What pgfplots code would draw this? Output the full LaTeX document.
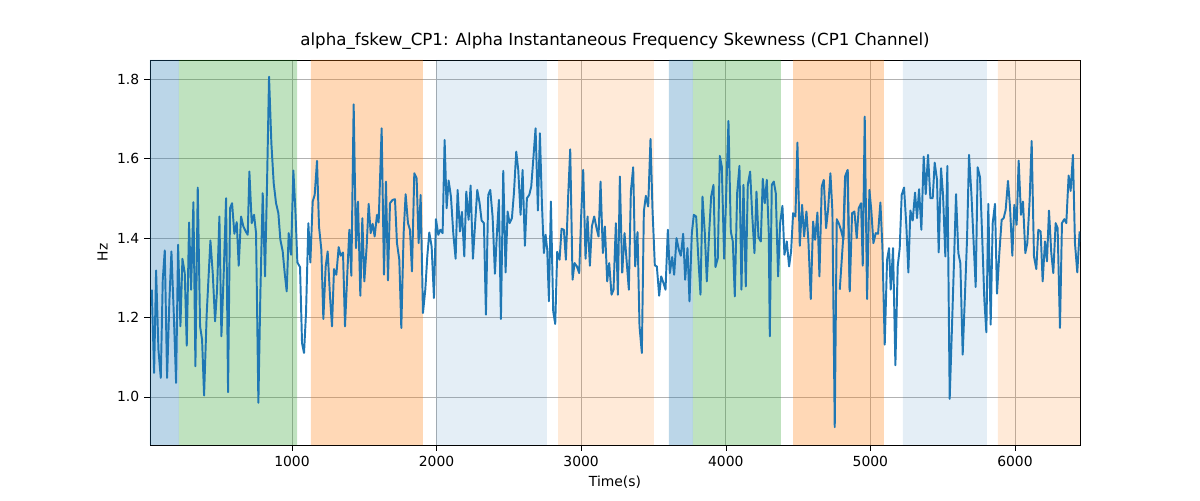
\documentclass[border=0pt]{standalone}
\usepackage{pgfplots}
\pgfplotsset{compat=1.18}
\usepackage{pgfplotstable}
\usepackage{fontspec}
\setmainfont{DejaVu Sans}
\definecolor{tb}{RGB}{31,119,180}
\definecolor{tg}{RGB}{44,160,44}
\definecolor{to}{RGB}{255,127,14}
\pgfplotstableread{
X Y
5 690
12 940
18 632
25 870
32 955
38 660
44 572
51 955
58 720
64 575
71 760
78 970
84 555
91 800
97 597
104 640
110 858
117 488
123 690
130 427
136 920
143 383
150 800
156 840
162 1008
170 760
181 542
188 640
195 785
201 690
208 470
214 830
221 640
228 415
234 998
240 445
246 430
253 522
260 487
266 618
273 470
280 500
287 515
293 525
298 335
305 490
312 465
318 520
325 1030
331 700
338 400
345 650
351 370
357 50
364 250
371 370
378 430
385 460
391 540
398 575
404 640
410 695
416 520
423 585
430 332
436 450
442 608
450 622
456 850
462 880
468 760
475 490
481 608
488 425
494 405
501 303
507 500
514 570
520 778
527 620
533 575
540 710
546 800
552 628
559 645
566 562
572 588
579 578
585 800
592 640
598 510
604 648
611 133
618 565
624 425
631 708
637 475
643 665
650 560
656 432
662 520
668 492
674 530
681 465
686 488
695 205
702 645
708 365
714 662
720 430
}\tA
\pgfplotstableread{
X Y
30 430
38 420
45 418
51 550
58 600
64 805
71 520
77 403
84 490
90 510
96 635
103 340
110 355
116 550
122 405
129 760
136 690
142 590
148 518
155 560
162 715
168 478
175 525
181 510
188 520
194 240
200 445
206 362
213 410
220 520
227 597
233 390
240 515
246 456
253 590
259 395
266 480
272 377
279 597
285 500
292 390
299 430
305 482
312 490
318 765
325 405
331 390
338 470
345 642
351 520
357 420
363 778
370 333
377 638
383 455
389 490
396 475
402 400
409 275
415 330
422 465
428 330
435 558
441 415
448 405
454 380
460 300
467 205
474 452
480 220
486 430
492 580
497 525
502 570
507 725
513 425
520 755
526 793
532 576
539 600
545 507
552 510
558 600
565 405
571 268
578 660
584 610
591 620
598 640
604 465
610 330
617 597
623 470
630 618
636 500
643 470
650 505
656 530
662 365
669 580
675 500
682 665
688 610
695 705
701 690
708 490
714 705
720 350
727 640
}\tB
\pgfplotstableread{
X Y
37 640
44 520
50 600
57 690
63 395
70 322
76 620
83 517
89 800
96 880
102 455
108 408
115 440
122 237
128 450
135 617
141 620
148 708
154 650
161 670
167 690
174 510
180 640
187 592
193 645
200 535
207 570
213 588
220 522
226 660
233 565
239 725
246 520
252 465
259 470
265 585
272 705
278 410
285 520
291 665
298 520
304 410
311 375
317 622
324 595
330 288
336 320
343 597
349 410
356 183
363 515
369 545
375 710
382 400
389 318
395 690
401 375
408 680
414 375
421 335
427 460
434 580
440 395
446 532
453 545
459 357
465 430
471 360
477 520
480 830
486 375
492 365
498 400
505 650
511 490
518 438
524 585
531 545
538 620
544 575
550 460
557 470
563 248
570 558
577 435
583 530
590 455
596 545
603 718
610 485
616 540
623 458
629 650
636 380
642 360
649 505
655 450
662 340
668 455
675 1103
681 478
688 493
694 512
701 540
707 350
714 330
720 690
}\tC
\pgfplotstableread{
X Y
0 690
10 540
16 350
23 332
30 695
37 460
44 455
51 535
57 445
64 430
69 618
75 170
82 718
89 390
95 455
101 550
108 520
115 522
122 428
128 560
135 855
142 600
148 565
153 690
160 565
167 917
174 620
180 565
186 405
193 383
200 500
206 638
212 452
219 482
226 398
232 475
238 388
245 510
252 290
258 403
265 285
272 415
279 415
285 308
292 360
297 578
304 325
310 405
317 590
323 318
330 1018
337 800
343 605
349 403
356 580
362 610
369 885
376 700
382 540
388 285
395 400
401 530
408 682
414 322
421 352
428 545
434 720
440 818
446 432
453 795
459 490
466 432
472 702
479 580
486 480
492 475
498 450
505 363
511 440
518 588
524 435
531 495
537 302
544 465
550 425
557 580
563 550
570 420
576 243
583 590
590 628
596 510
603 515
609 665
616 545
622 605
628 452
635 580
641 640
648 490
654 505
661 805
667 490
674 478
680 490
687 347
693 393
700 285
706 550
713 638
720 515
}\tD
\begin{document}
\begin{tikzpicture}
\begin{axis}[
  scale only axis, width=669.6pt, height=277.2pt,
  xmin=18, xmax=6450, ymin=0.879, ymax=1.848,
  xtick={1000,2000,3000,4000,5000,6000},
  ytick={1.0,1.2,1.4,1.6,1.8},
  xticklabel style={/pgf/number format/1000 sep={}},
  yticklabel style={/pgf/number format/fixed,/pgf/number format/fixed zerofill,/pgf/number format/precision=1},
  /pgf/number format/assume math mode=true,
  scaled x ticks=false,
  grid=major, grid style={gray!60, line width=0.6pt},
  tick align=outside, tick style={black},
  xtick pos=bottom, ytick pos=left,
  xlabel={Time(s)}, ylabel={Hz},
  title={alpha\_fskew\_CP1: Alpha Instantaneous Frequency Skewness (CP1 Channel)},
  title style={font=\fontsize{12}{14}\selectfont, yshift=-2pt},
  tick label style={font=\fontsize{10}{12}\selectfont},
  label style={font=\fontsize{10}{12}\selectfont},
]
\addplot[fill=tb, fill opacity=0.3, draw=none] coordinates {(18,0.879)(218,0.879)(218,1.848)(18,1.848)} \closedcycle;
\addplot[fill=tg, fill opacity=0.3, draw=none] coordinates {(218,0.879)(1035,0.879)(1035,1.848)(218,1.848)} \closedcycle;
\addplot[fill=to, fill opacity=0.3, draw=none] coordinates {(1131,0.879)(1906,0.879)(1906,1.848)(1131,1.848)} \closedcycle;
\addplot[fill=tb, fill opacity=0.12, draw=none] coordinates {(1996,0.879)(2763,0.879)(2763,1.848)(1996,1.848)} \closedcycle;
\addplot[fill=to, fill opacity=0.16, draw=none] coordinates {(2840,0.879)(3503,0.879)(3503,1.848)(2840,1.848)} \closedcycle;
\addplot[fill=tb, fill opacity=0.3, draw=none] coordinates {(3607,0.879)(3773,0.879)(3773,1.848)(3607,1.848)} \closedcycle;
\addplot[fill=tg, fill opacity=0.3, draw=none] coordinates {(3773,0.879)(4382,0.879)(4382,1.848)(3773,1.848)} \closedcycle;
\addplot[fill=to, fill opacity=0.3, draw=none] coordinates {(4465,0.879)(5094,0.879)(5094,1.848)(4465,1.848)} \closedcycle;
\addplot[fill=tb, fill opacity=0.12, draw=none] coordinates {(5225,0.879)(5806,0.879)(5806,1.848)(5225,1.848)} \closedcycle;
\addplot[fill=to, fill opacity=0.16, draw=none] coordinates {(5882,0.879)(6450,0.879)(6450,1.848)(5882,1.848)} \closedcycle;
\addplot[tb, line width=1.4pt, line join=round] table[x expr={1608.6+(\thisrow{X}-690)/0.434}, y expr={1.8-(\thisrow{Y}-57)/1194}] {\tA};
\addplot[tb, line width=1.4pt, line join=round] table[x expr={1608.6+\thisrow{X}/0.434}, y expr={1.8-(\thisrow{Y}-57)/1194}] {\tB};
\addplot[tb, line width=1.4pt, line join=round] table[x expr={1608.6+(\thisrow{X}+690)/0.434}, y expr={1.8-(\thisrow{Y}-57)/1194}] {\tC};
\addplot[tb, line width=1.4pt, line join=round] table[x expr={1608.6+(\thisrow{X}+1380)/0.434}, y expr={1.8-(\thisrow{Y}-57)/1194}] {\tD};
\coordinate (sw) at (rel axis cs:0,0);
\coordinate (ne) at (rel axis cs:1,1);
\end{axis}
\path (sw) ++(-108pt,-39.6pt) (ne) ++(86.4pt,43.2pt);
\end{tikzpicture}
\end{document}
